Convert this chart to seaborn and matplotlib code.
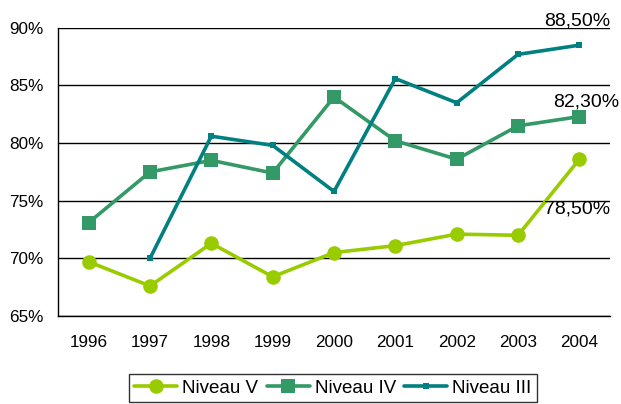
import numpy as np
import pandas as pd
import matplotlib
matplotlib.use("Agg")
import matplotlib.pyplot as plt
import seaborn as sns

years = ["1996", "1997", "1998", "1999", "2000", "2001", "2002", "2003", "2004"]
niveau_v = [69.7, 67.6, 71.3, 68.4, 70.5, 71.1, 72.1, 72.0, 78.6]
niveau_iv = [73.1, 77.5, 78.5, 77.4, 84.0, 80.2, 78.6, 81.5, 82.3]
niveau_iii = [np.nan, 70.0, 80.6, 79.8, 75.8, 85.6, 83.5, 87.7, 88.5]
end_labels = ["78,50%", "82,30%", "88,50%"]

sns.set_style("white")
plt.rcParams["font.family"] = ["Liberation Sans", "DejaVu Sans"]
plt.rcParams["text.color"] = "black"
plt.rcParams["xtick.color"] = "black"
plt.rcParams["ytick.color"] = "black"

fig = plt.figure(figsize=(6.21, 4.04), dpi=100)
ax = fig.add_axes([0.0934, 0.218, 0.889, 0.713])

x = np.arange(len(years))
series = [
    ("Niveau V", niveau_v, "#99cc00", "o", 10.5),
    ("Niveau IV", niveau_iv, "#339966", "s", 10.5),
    ("Niveau III", niveau_iii, "#008080", "s", 5),
]
for name, vals, col, mk, ms in series:
    df = pd.DataFrame({"x": x, "y": vals}).dropna()
    sns.lineplot(data=df, x="x", y="y", ax=ax, color=col, marker=mk,
                 markersize=ms, markeredgewidth=0, linewidth=2.6, label=name)

ax.set_xlim(-0.5, len(years) - 0.5)
ax.set_ylim(65, 90)
ax.set_yticks([65, 70, 75, 80, 85, 90])
ax.set_yticklabels([f"{v}%" for v in [65, 70, 75, 80, 85, 90]])
ax.set_xticks(np.arange(len(years) + 1) - 0.5)
ax.set_xticklabels([])
ax.set_xticks(x, minor=True)
ax.set_xticklabels(years, minor=True)
ax.tick_params(axis="x", which="major", length=6, width=1, color="black", direction="out")
ax.tick_params(axis="x", which="minor", length=0, pad=14, labelsize=12.3, labelcolor="black")
ax.tick_params(axis="y", length=5, width=1, color="black", direction="out", labelsize=12.3,
               pad=5.5, labelcolor="black")
ax.set_xlabel("")
ax.set_ylabel("")

ax.yaxis.grid(True, color="black", linewidth=1)
ax.set_axisbelow(True)
for s in ["top", "right"]:
    ax.spines[s].set_visible(False)
for s in ["left", "bottom"]:
    ax.spines[s].set_color("black")
    ax.spines[s].set_linewidth(1)

# end-of-line value labels
tr = ax.get_yaxis_transform()
ax.text(1.0, 90.6, end_labels[2], transform=tr, ha="right", va="center", fontsize=14, clip_on=False)
ax.text(1.016, 83.6, end_labels[1], transform=tr, ha="right", va="center", fontsize=14, clip_on=False)
ax.text(1.0, 74.3, end_labels[0], transform=tr, ha="right", va="center", fontsize=14, clip_on=False)

ax.legend_.remove()
handles, labels = ax.get_legend_handles_labels()
leg = fig.legend(handles, labels, loc="upper center", bbox_to_anchor=(0.536, 0.074),
                 ncol=3, frameon=True, fancybox=False, edgecolor="black",
                 fontsize=13.5, handlelength=2.3, handletextpad=0.27, columnspacing=0.43,
                 borderpad=0.3, borderaxespad=0)
leg.get_frame().set_linewidth(1)

fig.savefig("out.png", dpi=100)
